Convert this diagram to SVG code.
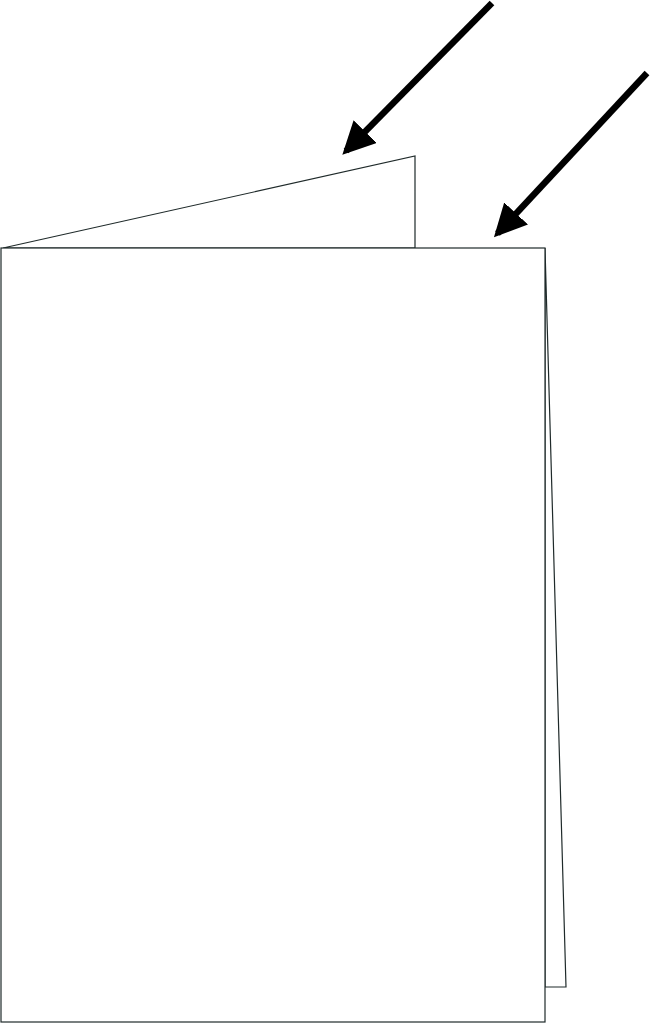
<svg xmlns="http://www.w3.org/2000/svg" width="652" height="1024" viewBox="0 0 652 1024">
<style>
.edge{fill:#fff;stroke:#1f2a2a;stroke-width:1.2;stroke-linejoin:miter}
.arrow{stroke:#000;stroke-width:6.5;fill:none}
</style>
<defs>
<marker id="ah" markerWidth="5" markerHeight="5" refX="4.2" refY="2.5" orient="auto" markerUnits="strokeWidth" viewBox="0 0 5 5">
<path d="M0,0 L5,2.5 L0,5 Z" fill="#000"/>
</marker>
</defs>
<rect width="652" height="1024" fill="#fff"/>
<g id="back-panel"><polygon class="edge" points="3,248 415,156 415,248"/></g>
<g id="right-panel"><polygon class="edge" points="545,248 566,987 545,987"/></g>
<g id="front-panel"><rect class="edge" x="1" y="248" width="544" height="774"/></g>
<g id="connectors">
<line class="arrow" x1="492" y1="3" x2="346" y2="151" marker-end="url(#ah)"/>
<line class="arrow" x1="647" y1="73" x2="497.5" y2="233.5" marker-end="url(#ah)"/>
</g>
</svg>
